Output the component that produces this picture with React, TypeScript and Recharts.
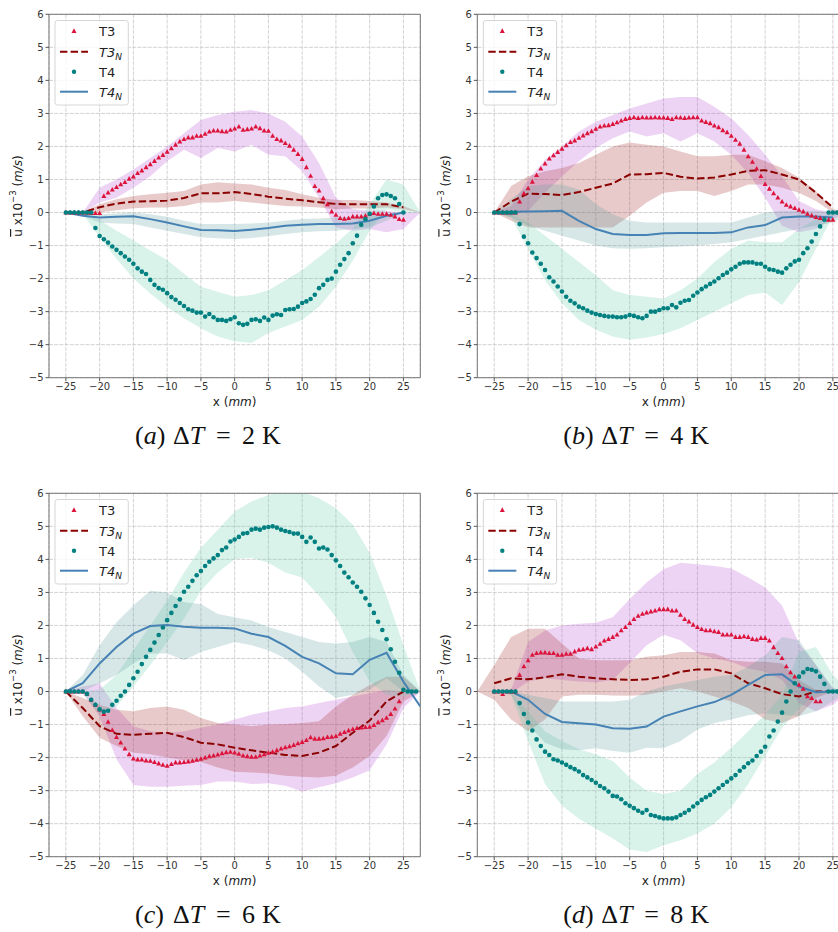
import React from "react";
import {
  ComposedChart,
  Line,
  Area,
  XAxis,
  YAxis,
  CartesianGrid,
  ReferenceLine,
} from "recharts";

// x positions of the measured points (mm)
const GRID = [
  -25, -24.375, -23.75, -23.125, -22.5, -21.875, -21.25, -20.625, -20, -19.375,
  -18.75, -18.125, -17.5, -16.875, -16.25, -15.625, -15, -14.375, -13.75, -13.125,
  -12.5, -11.875, -11.25, -10.625, -10, -9.375, -8.75, -8.125, -7.5, -6.875,
  -6.25, -5.625, -5, -4.375, -3.75, -3.125, -2.5, -1.875, -1.25, -0.625,
  0, 0.625, 1.25, 1.875, 2.5, 3.125, 3.75, 4.375, 5, 5.625,
  6.25, 6.875, 7.5, 8.125, 8.75, 9.375, 10, 10.625, 11.25, 11.875,
  12.5, 13.125, 13.75, 14.375, 15, 15.625, 16.25, 16.875, 17.5, 18.125,
  18.75, 19.375, 20, 20.625, 21.25, 21.875, 22.5, 23.125, 23.75, 24.375,
  25, 25.625, 26.25, 26.875,
];

// x positions of the numerical lines and of the shaded bands (mm)
const KNOTS = [
  -27.5, -25, -22.5, -20, -17.5, -15, -12.5, -10, -7.5, -5, -2.5, 0, 2.5, 5,
  7.5, 10, 12.5, 15, 17.5, 20, 22.5, 25, 27.5,
];

const XTICKS = [-25, -20, -15, -10, -5, 0, 5, 10, 15, 20, 25];
const YTICKS = [-5, -4, -3, -2, -1, 0, 1, 2, 3, 4, 5, 6];

// ---- (a) dT = 2 K ----
const A_T3 = [
  0, 0, 0, 0, 0, -0.01, -0.02, -0.02, -0.02,
  0.5, 0.6, 0.69, 0.77, 0.85, 0.92, 1.02, 1.09, 1.19, 1.27,
  1.37, 1.46, 1.56, 1.66, 1.74, 1.84, 1.94, 2.05, 2.15, 2.22,
  2.27, 2.27, 2.32, 2.32, 2.38, 2.45, 2.48, 2.48, 2.46, 2.45,
  2.5, 2.54, 2.6, 2.5, 2.52, 2.54, 2.6, 2.55, 2.48, 2.47,
  2.32, 2.22, 2.18, 2.1, 2.02, 1.9, 1.77, 1.62, 1.37, 1.11,
  0.8, 0.66, 0.43, 0.25, 0.03, -0.07, -0.17, -0.19, -0.17, -0.12,
  -0.12, -0.12, -0.1, -0.04, -0.02, -0.04, -0.04, -0.04, -0.07, -0.12,
  -0.2, -0.22,
];
const A_T4 = [
  0, 0, 0, 0, 0, 0, 0,
  -0.47, -0.71, -0.81, -0.91, -1.03, -1.13, -1.23, -1.33, -1.43, -1.55,
  -1.69, -1.79, -1.86, -2.04, -2.19, -2.29, -2.34, -2.44, -2.56, -2.64,
  -2.74, -2.83, -2.93, -2.97, -3.03, -3.03, -3.15, -3.07, -3.17, -3.25,
  -3.25, -3.28, -3.23, -3.17, -3.35, -3.4, -3.37, -3.25, -3.23, -3.28,
  -3.18, -3.25, -3.12, -3.08, -3.1, -2.95, -2.93, -2.92, -2.85, -2.74,
  -2.69, -2.62, -2.49, -2.29, -2.19, -2.04, -2.0, -1.79, -1.58, -1.41,
  -1.23, -0.93, -0.7, -0.37, -0.2, -0.04, 0.18, 0.43, 0.53, 0.55,
  0.5, 0.43, 0.26, 0,
];
const A_T3N = [null, 0, 0, 0.16, 0.27, 0.33, 0.34, 0.36, 0.44, 0.58, 0.58, 0.62, 0.56, 0.48, 0.42, 0.37, 0.31, 0.26, 0.25, 0.25, 0.25, 0.16, null];
const A_T4N = [null, 0, -0.1, -0.15, -0.13, -0.11, -0.2, -0.3, -0.42, -0.53, -0.54, -0.56, -0.52, -0.47, -0.4, -0.37, -0.35, -0.35, -0.33, -0.25, -0.1, 0, null];
const A_T3_LO = [0, 0, 0, 0.3, 0.45, 0.75, 1.1, 1.55, 1.9, 1.65, 1.95, 1.85, 2.05, 1.75, 1.7, 1.25, 0.45, -0.45, -0.55, -0.5, -0.6, -0.5, 0];
const A_T3_HI = [0, 0, 0, 0.75, 1.0, 1.3, 1.65, 2.0, 2.4, 2.8, 2.95, 3.05, 3.1, 3.0, 2.75, 2.3, 1.5, 0.45, 0.1, 0.05, 0.05, 0, 0];
const A_T3N_LO = [0, 0, -0.05, 0, 0.07, 0.13, 0.15, 0.15, 0.2, 0.3, 0.3, 0.35, 0.3, 0.25, 0.2, 0.18, 0.15, 0.1, 0.12, 0.12, 0.15, 0.1, 0];
const A_T3N_HI = [0, 0, 0.03, 0.25, 0.4, 0.5, 0.55, 0.6, 0.65, 0.85, 0.92, 0.88, 0.85, 0.75, 0.68, 0.55, 0.45, 0.38, 0.38, 0.35, 0.3, 0.2, 0];
const A_T4_LO = [0, 0, -0.05, -0.74, -1.4, -2.0, -2.45, -2.86, -3.2, -3.5, -3.75, -3.9, -3.95, -3.65, -3.45, -3.25, -2.85, -2.25, -1.45, -0.55, 0.1, 0, 0];
const A_T4_HI = [0, 0, -0.02, -0.23, -0.55, -0.84, -1.15, -1.44, -1.85, -2.25, -2.4, -2.55, -2.5, -2.35, -2.05, -1.75, -1.35, -0.94, -0.48, 0.25, 1.0, 0.85, 0];
const A_T4N_LO = [0, 0, -0.1, -0.3, -0.33, -0.35, -0.45, -0.55, -0.65, -0.75, -0.78, -0.8, -0.77, -0.72, -0.65, -0.6, -0.57, -0.55, -0.5, -0.45, -0.25, 0, 0];
const A_T4N_HI = [0, 0, 0, -0.05, -0.03, 0, -0.05, -0.13, -0.25, -0.35, -0.35, -0.35, -0.33, -0.3, -0.25, -0.2, -0.18, -0.15, -0.13, -0.1, -0.05, 0, 0];

// ---- (b) dT = 4 K ----
const B_T3 = [
  0, 0, 0, 0, 0, 0,
  0.33, 0.58, 0.73, 0.93, 1.13, 1.33, 1.48, 1.63, 1.73, 1.83,
  1.93, 2.03, 2.13, 2.18, 2.26, 2.33, 2.4, 2.46, 2.53, 2.6,
  2.63, 2.64, 2.68, 2.73, 2.78, 2.83, 2.86, 2.88, 2.86, 2.88,
  2.87, 2.87, 2.88, 2.87, 2.87, 2.86, 2.83, 2.88, 2.87, 2.86,
  2.87, 2.88, 2.88, 2.78, 2.74, 2.7, 2.63, 2.58, 2.49, 2.43,
  2.32, 2.2, 2.08, 1.9, 1.7, 1.53, 1.33, 1.1, 0.86, 0.72,
  0.58, 0.45, 0.33, 0.23, 0.18, 0.13, 0.08, 0.03, -0.04, -0.09,
  -0.14, -0.17, -0.2, -0.22, -0.22,
];
const B_T4 = [
  0, 0, 0, 0, 0, 0,
  -0.35, -0.73, -0.93, -1.21, -1.38, -1.55, -1.74, -1.96, -2.09, -2.24,
  -2.39, -2.55, -2.67, -2.75, -2.85, -2.9, -2.97, -3.03, -3.07, -3.1,
  -3.13, -3.15, -3.15, -3.17, -3.17, -3.15, -3.1, -3.13, -3.17, -3.2,
  -3.13, -3.0, -3.0, -2.95, -2.9, -2.9, -2.8, -2.87, -2.73, -2.67,
  -2.65, -2.52, -2.42, -2.32, -2.24, -2.16, -2.09, -1.99, -1.89, -1.82,
  -1.72, -1.64, -1.55, -1.51, -1.51, -1.51, -1.55, -1.55, -1.64, -1.72,
  -1.74, -1.79, -1.82, -1.69, -1.58, -1.48, -1.43, -1.23, -1.08, -0.88,
  -0.65, -0.42, -0.22, 0, 0, 0,
];
const B_T3N = [null, 0, 0.33, 0.57, 0.56, 0.53, 0.62, 0.75, 0.88, 1.15, 1.16, 1.2, 1.08, 1.03, 1.06, 1.15, 1.26, 1.28, 1.15, 1.0, 0.6, 0.15, null];
const B_T4N = [null, 0, 0.02, 0.03, 0.04, 0.05, -0.25, -0.5, -0.65, -0.68, -0.68, -0.63, -0.62, -0.62, -0.62, -0.6, -0.45, -0.38, -0.15, -0.12, -0.12, -0.15, null];
const B_T3_LO = [0, 0, -0.1, 0.05, 0.6, 1.1, 1.55, 1.95, 2.25, 2.45, 2.3, 2.4, 2.15, 2.4, 2.15, 1.75, 1.2, 0.45, -0.4, -0.6, -0.5, -0.2, 0];
const B_T3_HI = [0, 0, 0.2, 1.0, 1.6, 2.0, 2.45, 2.75, 2.95, 3.15, 3.3, 3.45, 3.5, 3.5, 3.2, 2.85, 2.35, 1.75, 1.1, 0.35, 0.1, 0, 0];
const B_T3N_LO = [0, 0, -0.25, -0.45, -0.45, -0.45, -0.45, -0.45, -0.45, -0.1, 0.3, 0.6, 0.65, 0.65, 0.5, 0.65, 0.85, 0.85, 0.75, 0.6, 0.35, 0, 0];
const B_T3N_HI = [0, 0, 0.8, 1.1, 1.25, 1.35, 1.5, 1.75, 2.0, 2.12, 2.05, 2.0, 1.85, 1.7, 1.7, 1.75, 1.75, 1.55, 1.35, 1.05, 0.65, 0.1, 0];
const B_T4_LO = [0, 0, -0.15, -1.1, -2.05, -2.75, -3.25, -3.55, -3.75, -3.85, -3.78, -3.68, -3.5, -3.25, -3.0, -2.75, -2.5, -2.42, -2.8, -2.1, -1.1, -0.1, 0];
const B_T4_HI = [0, 0, -0.05, -0.3, -0.7, -1.1, -1.5, -1.9, -2.35, -2.5, -2.55, -2.6, -2.35, -2.0, -1.5, -1.1, -0.85, -0.9, -0.9, -0.5, -0.2, 0, 0];
const B_T4N_LO = [0, 0, -0.15, -0.4, -0.55, -0.7, -0.85, -1.0, -1.08, -1.1, -1.08, -1.05, -1.03, -1.0, -0.95, -0.9, -0.8, -0.7, -0.6, -0.5, -0.4, -0.3, 0];
const B_T4N_HI = [0, 0, 0.4, 0.8, 0.85, 0.85, 0.7, 0.25, -0.05, -0.25, -0.3, -0.3, -0.3, -0.3, -0.3, -0.3, -0.15, 0, 0.05, 0.05, 0.05, 0, 0];

// ---- (c) dT = 6 K ----
const C_T3 = [
  0, 0, 0, 0, 0, -0.07, -0.25, -0.4, -0.55, -0.68,
  -0.92, -1.17, -1.38, -1.55, -1.73, -1.9, -2.03, -2.06, -2.06, -2.09,
  -2.1, -2.14, -2.18, -2.22, -2.25, -2.2, -2.15, -2.15, -2.14, -2.12,
  -2.1, -2.07, -2.04, -2.0, -1.96, -1.94, -1.91, -1.87, -1.84, -1.83,
  -1.85, -1.89, -1.94, -1.96, -1.98, -1.98, -1.94, -1.9, -1.86, -1.83,
  -1.78, -1.73, -1.69, -1.66, -1.62, -1.57, -1.53, -1.47, -1.39, -1.43,
  -1.43, -1.42, -1.38, -1.37, -1.35, -1.28, -1.23, -1.18, -1.14, -1.11,
  -1.09, -1.08, -1.07, -1.02, -0.93, -0.87, -0.8, -0.68, -0.52, -0.3,
];
const C_T4 = [
  0, 0, 0, 0, 0,
  -0.07, -0.25, -0.4, -0.54, -0.61, -0.58, -0.4, -0.28, -0.13, 0,
  0.2, 0.4, 0.6, 0.83, 1.05, 1.26, 1.48, 1.71, 1.94, 2.16,
  2.38, 2.59, 2.79, 3.02, 3.17, 3.35, 3.52, 3.65, 3.8, 3.93,
  4.03, 4.13, 4.28, 4.36, 4.54, 4.6, 4.68, 4.78, 4.8, 4.9,
  4.93, 4.9, 4.96, 4.98, 5.0, 4.96, 4.9, 4.86, 4.83, 4.78,
  4.78, 4.68, 4.53, 4.66, 4.53, 4.33, 4.36, 4.3, 4.13, 3.97,
  3.8, 3.6, 3.46, 3.3, 3.17, 3.02, 2.82, 2.62, 2.38, 2.11,
  1.86, 1.58, 1.28, 0.9, 0.57, 0.05, 0, 0, 0,
];
const C_T3N = [null, 0, -0.5, -1.05, -1.28, -1.31, -1.28, -1.25, -1.38, -1.55, -1.6, -1.7, -1.78, -1.85, -1.92, -1.95, -1.85, -1.65, -1.25, -0.88, -0.3, 0, null];
const C_T4N = [null, 0, 0.25, 0.85, 1.35, 1.75, 1.98, 2.01, 1.96, 1.93, 1.93, 1.91, 1.75, 1.65, 1.38, 1.05, 0.85, 0.55, 0.52, 0.96, 1.17, 0.3, -0.45];
const C_T3_LO = [0, 0, -0.05, -0.75, -2.05, -2.83, -2.88, -2.88, -2.85, -2.83, -2.72, -2.72, -2.8, -2.78, -2.85, -3.03, -2.9, -2.78, -2.6, -2.38, -1.6, -0.5, 0];
const C_T3_HI = [0, 0, 0.15, 0.25, -0.5, -1.05, -1.2, -1.25, -1.2, -1.1, -1.0, -0.85, -0.7, -0.6, -0.5, -0.45, -0.35, -0.25, -0.15, -0.05, 0.05, 0, 0];
const C_T3N_LO = [0, 0, -0.75, -1.4, -1.65, -1.85, -1.9, -2.0, -2.08, -2.13, -2.3, -2.43, -2.45, -2.48, -2.55, -2.58, -2.6, -2.55, -2.3, -1.95, -1.35, -0.3, 0];
const C_T3N_HI = [0, 0, -0.2, -0.4, -0.55, -0.6, -0.5, -0.45, -0.55, -0.8, -0.95, -1.0, -1.05, -1.0, -0.98, -0.95, -0.9, -0.45, -0.1, 0.2, 0.45, 0.45, 0];
const C_T4_LO = [0, 0, -0.05, -0.7, -0.45, 0.15, 0.8, 1.5, 2.2, 3.05, 3.6, 4.0, 4.05, 3.9, 3.6, 3.45, 2.9, 2.25, 1.2, 0.3, -0.1, -0.15, 0];
const C_T4_HI = [0, 0, 0.02, 0.05, 0.5, 1.25, 2.0, 2.75, 3.6, 4.35, 4.9, 5.45, 5.75, 5.95, 6.1, 6.05, 5.85, 5.55, 5.05, 4.2, 2.9, 1.4, 0];
const C_T4N_LO = [0, 0, 0, 0.25, 0.5, 0.85, 1.15, 1.15, 0.95, 1.2, 1.35, 1.5, 1.4, 1.25, 1.0, 0.6, 0.15, -0.2, -0.1, 0.05, 0.4, 0, 0];
const C_T4N_HI = [0, 0, 0.5, 1.4, 2.1, 2.6, 3.05, 3.0, 2.7, 2.65, 2.35, 2.25, 2.15, 1.95, 1.8, 1.65, 1.5, 1.45, 1.5, 1.65, 1.5, 0.5, 0];

// ---- (d) dT = 8 K ----
const D_T3 = [
  0, 0, -0.08, 0, 0, 0, 0.5, 0.76, 0.94, 1.11,
  1.16, 1.18, 1.18, 1.16, 1.16, 1.11, 1.11, 1.14, 1.14, 1.21,
  1.26, 1.28, 1.31, 1.28, 1.36, 1.44, 1.54, 1.59, 1.65, 1.72,
  1.85, 1.95, 2.07, 2.19, 2.29, 2.35, 2.39, 2.42, 2.45, 2.49,
  2.49, 2.49, 2.45, 2.45, 2.32, 2.19, 2.12, 2.02, 1.95, 1.89,
  1.85, 1.85, 1.82, 1.8, 1.72, 1.72, 1.72, 1.65, 1.65, 1.67,
  1.65, 1.59, 1.57, 1.62, 1.62, 1.54, 1.34, 1.16, 1.01, 0.76,
  0.58, 0.45, 0.2, 0.08, -0.15, -0.2, -0.3, -0.3,
];
const D_T4 = [
  0, 0, 0, 0, 0, 0,
  -0.35, -0.68, -0.94, -1.18, -1.45, -1.65, -1.82, -1.92, -2.05, -2.09,
  -2.15, -2.22, -2.29, -2.35, -2.42, -2.53, -2.6, -2.68, -2.76, -2.86,
  -2.93, -3.03, -3.16, -3.18, -3.26, -3.38, -3.46, -3.53, -3.61, -3.67,
  -3.59, -3.74, -3.77, -3.81, -3.84, -3.84, -3.84, -3.81, -3.74, -3.67,
  -3.59, -3.48, -3.38, -3.28, -3.2, -3.13, -3.03, -2.93, -2.83, -2.73,
  -2.63, -2.53, -2.4, -2.29, -2.17, -2.09, -1.95, -1.82, -1.67, -1.36,
  -1.18, -0.91, -0.64, -0.3, 0, 0.25, 0.45, 0.58, 0.68, 0.66,
  0.61, 0.45, 0.23, 0, 0, 0,
];
const D_T3N = [null, 0.25, 0.4, 0.37, 0.43, 0.52, 0.45, 0.4, 0.37, 0.35, 0.37, 0.45, 0.6, 0.67, 0.67, 0.55, 0.25, 0.1, -0.08, -0.15, 0, 0, null];
const D_T4N = [null, 0, 0, -0.25, -0.68, -0.92, -0.96, -1.0, -1.11, -1.13, -1.06, -0.76, -0.6, -0.45, -0.32, -0.1, 0.2, 0.5, 0.52, 0.15, -0.02, 0, null];
const D_T3_LO = [0, 0, -0.05, 0.3, 0.4, 0.35, 0.3, 0.27, 0.35, 0.86, 1.4, 1.72, 1.55, 1.16, 1.0, 0.9, 0.7, 0.6, 0.35, -0.35, -0.6, -0.4, 0];
const D_T3_HI = [0, 0, 0.05, 1.5, 1.85, 2.0, 2.05, 2.08, 2.25, 2.8, 3.3, 3.7, 3.9, 3.85, 3.8, 3.72, 3.45, 3.15, 2.6, 1.45, 0.8, 0.1, 0];
const D_T3N_LO = [0, -0.25, -0.85, -1.2, -0.85, -0.15, -0.1, -0.1, -0.12, -0.13, -0.1, 0, 0.1, 0, -0.15, -0.3, -0.5, -0.85, -0.95, -0.75, -0.2, 0, 0];
const D_T3N_HI = [0, 0.8, 1.65, 1.9, 1.9, 1.45, 1.0, 0.95, 0.95, 0.95, 1.05, 1.1, 1.2, 1.2, 1.15, 0.95, 0.9, 0.9, 0.85, 0.35, 0.05, 0, 0];
const D_T4_LO = [0, 0, -0.1, -1.5, -2.8, -3.45, -3.85, -4.15, -4.45, -4.78, -4.86, -4.65, -4.5, -4.3, -4.0, -3.5, -2.8, -1.95, -1.1, -0.5, -0.1, 0, 0];
const D_T4_HI = [0, 0, -0.05, -0.6, -1.2, -1.5, -1.75, -1.9, -2.1, -2.6, -3.0, -3.1, -3.0, -2.5, -2.15, -1.7, -1.2, -0.7, -0.1, 1.2, 1.35, 0.5, 0];
const D_T4N_LO = [0, 0, -0.1, -1.0, -1.55, -1.75, -1.78, -1.72, -1.8, -1.85, -1.7, -1.72, -1.5, -1.15, -0.95, -0.85, -0.72, -0.66, -0.7, -0.75, -0.6, -0.3, 0];
const D_T4N_HI = [0, 0, 0.02, -0.1, -0.2, -0.3, -0.3, -0.3, -0.3, -0.25, 0, 0.15, 0.25, 0.35, 0.45, 0.5, 0.75, 1.1, 1.65, 1.55, 0.8, 0.1, 0];

const COLORS = {
  t3: "#dc143c",
  t3n: "#8b0000",
  t4: "#008080",
  t4n: "#4682b4",
  t3Band: "#ba55d3",
  t3nBand: "#a52a2a",
  t4Band: "#66cdaa",
  t4nBand: "#5f9ea0",
};

type Series = (number | null)[];

interface PanelData {
  t3: Series;
  t4: Series;
  t3n: Series;
  t4n: Series;
  t3Lo: number[];
  t3Hi: number[];
  t3nLo: number[];
  t3nHi: number[];
  t4Lo: number[];
  t4Hi: number[];
  t4nLo: number[];
  t4nHi: number[];
}

const PANEL_A: PanelData = { t3: A_T3, t4: A_T4, t3n: A_T3N, t4n: A_T4N, t3Lo: A_T3_LO, t3Hi: A_T3_HI, t3nLo: A_T3N_LO, t3nHi: A_T3N_HI, t4Lo: A_T4_LO, t4Hi: A_T4_HI, t4nLo: A_T4N_LO, t4nHi: A_T4N_HI };
const PANEL_B: PanelData = { t3: B_T3, t4: B_T4, t3n: B_T3N, t4n: B_T4N, t3Lo: B_T3_LO, t3Hi: B_T3_HI, t3nLo: B_T3N_LO, t3nHi: B_T3N_HI, t4Lo: B_T4_LO, t4Hi: B_T4_HI, t4nLo: B_T4N_LO, t4nHi: B_T4N_HI };
const PANEL_C: PanelData = { t3: C_T3, t4: C_T4, t3n: C_T3N, t4n: C_T4N, t3Lo: C_T3_LO, t3Hi: C_T3_HI, t3nLo: C_T3N_LO, t3nHi: C_T3N_HI, t4Lo: C_T4_LO, t4Hi: C_T4_HI, t4nLo: C_T4N_LO, t4nHi: C_T4N_HI };
const PANEL_D: PanelData = { t3: D_T3, t4: D_T4, t3n: D_T3N, t4n: D_T4N, t3Lo: D_T3_LO, t3Hi: D_T3_HI, t3nLo: D_T3N_LO, t3nHi: D_T3N_HI, t4Lo: D_T4_LO, t4Hi: D_T4_HI, t4nLo: D_T4N_LO, t4nHi: D_T4N_HI };

const fmtTick = (v: number) => (v < 0 ? `\u2212${Math.abs(v)}` : `${v}`);

const pick = (arr: Series, i: number) =>
  i < arr.length && arr[i] !== undefined ? arr[i] : null;

// Marker shapes for the measured points
const TriangleDot = (props: any) => {
  const { cx, cy, index, value } = props;
  if (value == null || cx == null || cy == null || Number.isNaN(cy)) {
    return <g key={`t3-${index}`} />;
  }
  return (
    <path
      key={`t3-${index}`}
      d={`M${cx},${cy - 2.7} L${cx + 2.5},${cy + 1.9} L${cx - 2.5},${cy + 1.9} Z`}
      fill={COLORS.t3}
    />
  );
};

const CircleDot = (props: any) => {
  const { cx, cy, index, value } = props;
  if (value == null || cx == null || cy == null || Number.isNaN(cy)) {
    return <g key={`t4-${index}`} />;
  }
  return <circle key={`t4-${index}`} cx={cx} cy={cy} r={2.3} fill={COLORS.t4} />;
};

const CHART_H = 400;
const PLOT_TOP = 14.3;
const PLOT_H = 363.4;
const Y_AXIS_W = 30;
const X_AXIS_H = 20;

interface PanelProps {
  left: number;
  top: number;
  plotLeft: number;
  plotWidth: number;
  data: PanelData;
  letter: string;
  delta: string;
}

const Panel: React.FC<PanelProps> = ({ left, top, plotLeft, plotWidth, data, letter, delta }) => {
  const knotRows = KNOTS.map((x, i) => ({
    x,
    t3n: data.t3n[i],
    t4n: data.t4n[i],
    t3Band: [data.t3Lo[i], data.t3Hi[i]],
    t3nBand: [data.t3nLo[i], data.t3nHi[i]],
    t4Band: [data.t4Lo[i], data.t4Hi[i]],
    t4nBand: [data.t4nLo[i], data.t4nHi[i]],
  }));
  const dotRows = GRID.map((x, i) => ({ x, t3: pick(data.t3, i), t4: pick(data.t4, i) }));

  const chartW = plotLeft + plotWidth + 5;
  const mid = plotLeft + plotWidth / 2;
  const lx = plotLeft + 6;
  const c0 = plotLeft + 86;

  return (
    <div style={{ position: "absolute", left, top, width: chartW, height: 460 }}>
      <ComposedChart
        width={chartW}
        height={CHART_H}
        data={knotRows}
        margin={{
          top: PLOT_TOP,
          right: 5,
          bottom: CHART_H - PLOT_TOP - PLOT_H - X_AXIS_H,
          left: plotLeft - Y_AXIS_W,
        }}
      >
        <CartesianGrid stroke="#cdcdcd" strokeDasharray="4 1.2" strokeWidth={0.9} />
        <XAxis
          type="number"
          dataKey="x"
          domain={[-27.5, 27.5]}
          ticks={XTICKS}
          interval={0}
          allowDataOverflow
          height={X_AXIS_H}
          tickSize={3.5}
          tickMargin={2}
          tickFormatter={fmtTick}
          tick={{ fontSize: 10, fill: "#333", fontFamily: "DejaVu Sans" }}
          tickLine={{ stroke: "#555" }}
          axisLine={{ stroke: "#777" }}
        />
        <YAxis
          type="number"
          domain={[-5, 6]}
          ticks={YTICKS}
          interval={0}
          allowDataOverflow
          width={Y_AXIS_W}
          tickSize={3.5}
          tickMargin={2}
          tickFormatter={fmtTick}
          tick={{ fontSize: 10, fill: "#333", fontFamily: "DejaVu Sans" }}
          tickLine={{ stroke: "#555" }}
          axisLine={{ stroke: "#777" }}
        />
        <ReferenceLine y={6} stroke="#777" />
        <ReferenceLine x={27.5} stroke="#777" />

        <Area dataKey="t3Band" type="linear" stroke="none" fill={COLORS.t3Band} fillOpacity={0.25} isAnimationActive={false} />
        <Area dataKey="t3nBand" type="linear" stroke="none" fill={COLORS.t3nBand} fillOpacity={0.25} isAnimationActive={false} />
        <Area dataKey="t4Band" type="linear" stroke="none" fill={COLORS.t4Band} fillOpacity={0.25} isAnimationActive={false} />
        <Area dataKey="t4nBand" type="linear" stroke="none" fill={COLORS.t4nBand} fillOpacity={0.25} isAnimationActive={false} />

        <Line dataKey="t3n" type="linear" stroke={COLORS.t3n} strokeWidth={2} strokeDasharray="7.4 3.2" dot={false} activeDot={false} isAnimationActive={false} />
        <Line dataKey="t4n" type="linear" stroke={COLORS.t4n} strokeWidth={2} dot={false} activeDot={false} isAnimationActive={false} />

        <Line data={dotRows} dataKey="t3" stroke="none" dot={TriangleDot} activeDot={false} isAnimationActive={false} />
        <Line data={dotRows} dataKey="t4" stroke="none" dot={CircleDot} activeDot={false} isAnimationActive={false} />
      </ComposedChart>

      <svg
        width={chartW}
        height={460}
        style={{ position: "absolute", left: 0, top: 0, overflow: "visible", pointerEvents: "none" }}
      >
        {/* y label */}
        <text
          transform={`translate(${plotLeft - 31},${PLOT_TOP + PLOT_H / 2}) rotate(-90)`}
          textAnchor="middle"
          dominantBaseline="central"
          fontSize={12}
          fontFamily="DejaVu Sans"
          fill="#222"
        >
          <tspan textDecoration="overline">u</tspan>
          <tspan> x10</tspan>
          <tspan dy={-5} fontSize={8.5}>{"\u22123"}</tspan>
          <tspan dy={5}> (</tspan>
          <tspan fontStyle="italic">m/s</tspan>
          <tspan>)</tspan>
        </text>

        {/* x label */}
        <text x={mid} y={406} textAnchor="middle" fontSize={12} fontFamily="DejaVu Sans" fill="#222">
          x (<tspan fontStyle="italic">mm</tspan>)
        </text>

        {/* legend */}
        <rect x={lx} y={20.5} width={73.3} height={84.5} rx={2.5} fill="#fff" fillOpacity={0.8} stroke="#d6d6d6" />
        <path d={`M${lx + 19},${28.3} L${lx + 21.5},${32.9} L${lx + 16.5},${32.9} Z`} fill={COLORS.t3} />
        <line x1={lx + 5} x2={lx + 33} y1={51.7} y2={51.7} stroke={COLORS.t3n} strokeWidth={2} strokeDasharray="7.4 3.2" />
        <circle cx={lx + 19} cy={71.7} r={2.2} fill={COLORS.t4} />
        <line x1={lx + 5} x2={lx + 33} y1={91.7} y2={91.7} stroke={COLORS.t4n} strokeWidth={2} />
        <g fontSize={13} fontFamily="DejaVu Sans" fill="#222">
          <text x={lx + 44} y={36}>T3</text>
          <text x={lx + 44} y={56.5}>
            <tspan fontStyle="italic">T3</tspan>
            <tspan fontStyle="italic" fontSize={9} dy={3}>N</tspan>
          </text>
          <text x={lx + 44} y={76.5}>T4</text>
          <text x={lx + 44} y={96.5}>
            <tspan fontStyle="italic">T4</tspan>
            <tspan fontStyle="italic" fontSize={9} dy={3}>N</tspan>
          </text>
        </g>

        {/* caption */}
        <text y={444} fontSize={26} fontFamily="Liberation Serif" fill="#111">
          <tspan x={c0}>(</tspan>
          <tspan fontStyle="italic">{letter}</tspan>
          <tspan>)</tspan>
          <tspan x={c0 + 38}>{"\u0394"}</tspan>
          <tspan fontStyle="italic">T</tspan>
          <tspan x={c0 + 81}>=</tspan>
          <tspan x={c0 + 107}>{delta}</tspan>
          <tspan x={c0 + 127}>K</tspan>
        </text>
      </svg>
    </div>
  );
};

export default function App() {
  return (
    <div
      style={{
        position: "fixed",
        left: 0,
        top: 0,
        width: 838,
        height: 932,
        overflow: "hidden",
        background: "#fff",
      }}
    >
      <Panel left={0} top={0} plotLeft={49} plotWidth={371.3} data={PANEL_A} letter="a" delta="2" />
      <Panel left={420} top={0} plotLeft={57.3} plotWidth={372.5} data={PANEL_B} letter="b" delta="4" />
      <Panel left={0} top={479} plotLeft={49} plotWidth={371.3} data={PANEL_C} letter="c" delta="6" />
      <Panel left={420} top={479} plotLeft={57.3} plotWidth={372.5} data={PANEL_D} letter="d" delta="8" />
    </div>
  );
}
